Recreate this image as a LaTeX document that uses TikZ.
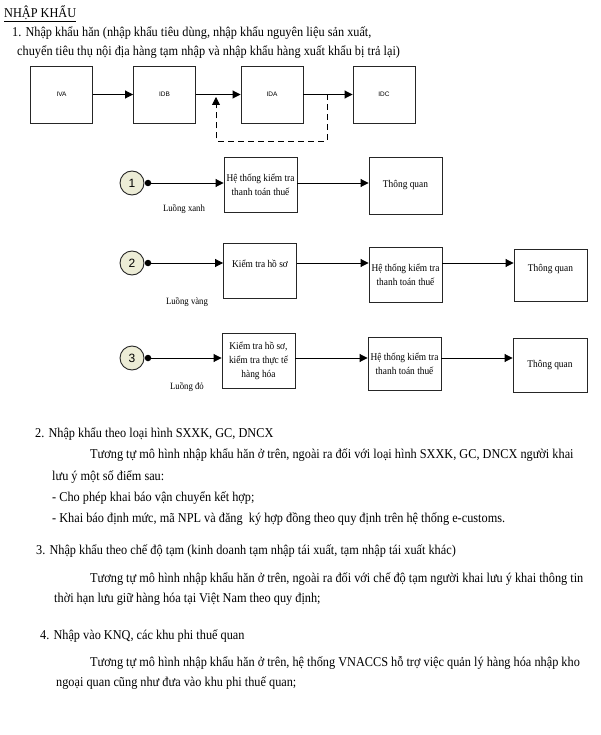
\documentclass[tikz,border=0pt]{standalone}
\usepackage{fontspec}
\setmainfont[FakeStretch=0.91]{Liberation Serif}
\newfontfamily\arialfont{Liberation Sans}
\usetikzlibrary{arrows.meta}
\usetikzlibrary{positioning}
\definecolor{numfill}{RGB}{236,236,214}

\begin{document}
\begin{tikzpicture}[x=1pt,y=-1pt,every node/.style={inner sep=0pt},
  box/.style={draw=black!85,line width=0.9pt,minimum width=73pt,minimum height=55pt,align=center,font=\fontsize{10.3}{14}\selectfont},
  sbox/.style={draw=black!85,line width=0.9pt,minimum width=62pt,minimum height=57pt,font=\arialfont\fontsize{6.5}{8}\selectfont},
  flow/.style={line width=0.9pt,-{Triangle[length=8pt,width=8pt]}},
  num/.style={circle,draw=black!85,line width=0.9pt,fill=numfill,minimum size=24pt,font=\arialfont\fontsize{12}{14}\selectfont},
  dot/.style={circle,fill=black,minimum size=6.5pt},
  lane/.style={font=\fontsize{9.6}{12}\selectfont},
  para/.style={anchor=base west,font=\fontsize{13.5}{15}\selectfont}]
  \useasboundingbox (0,0) rectangle (601,735);

  % heading
  \node[para] (title) at (4,18) {\underline{NHẬP KHẨU}};
  \node[para] (h1) at (12,37) {1. Nhập khẩu hăn (nhập khẩu tiêu dùng, nhập khẩu nguyên liệu sản xuất,};
  \node[para] (h1b) at (17,56) {chuyển tiêu thụ nội địa hàng tạm nhập và nhập khẩu hàng xuất khẩu bị trả lại)};

  % IVA - IDB - IDA - IDC
  \node[sbox] (iva) at (61.5,94.5) {IVA};
  \node[sbox] (idb) at (164.5,94.5) {IDB};
  \node[sbox] (ida) at (272,94.5) {IDA};
  \node[sbox] (idc) at (384,94.5) {IDC};
  \draw[flow] (iva) -- (idb);
  \draw[flow] (idb) -- (ida);
  \draw[flow] (ida) -- (idc);
  \coordinate (split) at (327,94.5);
  \coordinate (back) at (216,97);
  \draw[flow,dash pattern=on 6pt off 4pt] (split) -- ++(0,46.5) -| (back);

  % luong xanh
  \node[num] (n1) at (132,183) {1};
  \node[dot] (d1) at (148,183) {};
  \node[box] (ht1) at (260.5,184.5) {Hệ thống kiểm tra\\thanh toán thuế};
  \node[box,minimum height=57pt] (tq1) at (405.5,185.5) {Thông quan};
  \draw[flow] (d1.center) -- (ht1.west |- d1);
  \draw[flow] (ht1.east |- d1) -- (tq1.west |- d1);
  \node[lane] (l1) at (184,209) {Luồng xanh};

  % luong vang
  \node[num] (n2) at (132,263) {2};
  \node[dot] (d2) at (148,263) {};
  \node[box] (kt2) at (260,270.5) {\raisebox{14pt}{Kiểm tra hồ sơ}};
  \node[box] (ht2) at (405.5,274.5) {Hệ thống kiểm tra\\thanh toán thuế};
  \node[box,minimum height=52pt] (tq2) at (550.5,275) {\raisebox{14pt}{Thông quan}};
  \draw[flow] (d2.center) -- (kt2.west |- d2);
  \draw[flow] (kt2.east |- d2) -- (ht2.west |- d2);
  \draw[flow] (ht2.east |- d2) -- (tq2.west |- d2);
  \node[lane] (l2) at (187,302) {Luồng vàng};

  % luong do
  \node[num] (n3) at (132,358) {3};
  \node[dot] (d3) at (148,358) {};
  \node[box] (kt3) at (258.5,360.5) {Kiểm tra hồ sơ,\\kiểm tra thực tế\\hàng hóa};
  \node[box,minimum height=53pt] (ht3) at (404.5,363.5) {Hệ thống kiểm tra\\thanh toán thuế};
  \node[box,minimum height=54pt,minimum width=74pt] (tq3) at (550,365) {Thông quan};
  \draw[flow] (d3.center) -- (kt3.west |- d3);
  \draw[flow] (kt3.east |- d3) -- (ht3.west |- d3);
  \draw[flow] (ht3.east |- d3) -- (tq3.west |- d3);
  \node[lane] (l3) at (187,387) {Luồng đỏ};

  % 2.
  \node[para] (p2) at (35,437) {2. Nhập khẩu theo loại hình SXXK, GC, DNCX};
  \node[para] (p2a) at (90,458) {Tương tự mô hình nhập khẩu hăn ở trên, ngoài ra đối với loại hình SXXK, GC, DNCX người khai};
  \node[para] (p2b) at (52,480) {lưu ý một số điểm sau:};
  \node[para] (p2c) at (52,501) {- Cho phép khai báo vận chuyển kết hợp;};
  \node[para] (p2d) at (52,522) {- Khai báo định mức, mã NPL và đăng\ \ ký hợp đồng theo quy định trên hệ thống e-customs.};

  % 3.
  \node[para] (p3) at (36,554) {3. Nhập khẩu theo chế độ tạm (kinh doanh tạm nhập tái xuất, tạm nhập tái xuất khác)};
  \node[para] (p3a) at (90,582) {Tương tự mô hình nhập khẩu hăn ở trên, ngoài ra đối với chế độ tạm người khai lưu ý khai thông tin};
  \node[para] (p3b) at (54,602) {thời hạn lưu giữ hàng hóa tại Việt Nam theo quy định;};

  % 4.
  \node[para] (p4) at (40,639) {4. Nhập vào KNQ, các khu phi thuế quan};
  \node[para] (p4a) at (90,666) {Tương tự mô hình nhập khẩu hăn ở trên, hệ thống VNACCS hỗ trợ việc quản lý hàng hóa nhập kho};
  \node[para] (p4b) at (56,686) {ngoại quan cũng như đưa vào khu phi thuế quan;};
\end{tikzpicture}
\end{document}
